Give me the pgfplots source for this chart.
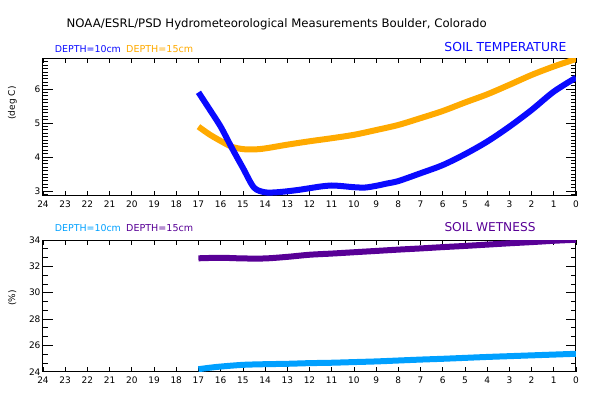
\documentclass[border=0pt]{standalone}
\usepackage{fontspec}
\setmainfont{DejaVu Sans}
\usepackage{pgfplots}
\pgfplotsset{compat=1.18}
\definecolor{cBlue}{RGB}{10,10,255}
\definecolor{cOrange}{RGB}{255,170,0}
\definecolor{cLight}{RGB}{0,160,255}
\definecolor{cPurple}{RGB}{88,0,150}
\pgfplotsset{
  myaxis/.style={
    scale only axis, width=533pt, anchor=south west,
    xmin=0, xmax=24, x dir=reverse,
    xtick={0,1,...,24},
    axis line style={line width=1pt},
    major tick length=10pt, minor tick length=5pt,
    every tick/.style={black, line width=0.7pt},
    xtick style={/pgfplots/major tick length=5pt},
    minor y tick style={black, line width=0.7pt},
    tick align=inside,
    xticklabel pos=lower, yticklabel pos=left,
    ticklabel style={font=\fontsize{9}{10}\selectfont},
    /pgf/number format/assume math mode=true,
    xticklabel style={yshift=-1.5pt},
    yticklabel style={xshift=1pt},
    clip=true,
  }
}
\begin{document}
\begin{tikzpicture}[x=1pt,y=1pt]
\useasboundingbox (0,0) rectangle (603,397);
% top panel
\begin{axis}[myaxis, at={(43pt,201.3pt)}, height=137.4pt,
  ymin=2.86, ymax=6.9, ytick={3,4,5,6},
  minor ytick={2.9,3.1,3.2,3.3,3.4,3.5,3.6,3.7,3.8,3.9,4.1,4.2,4.3,4.4,4.5,4.6,4.7,4.8,4.9,5.1,5.2,5.3,5.4,5.5,5.6,5.7,5.8,5.9,6.1,6.2,6.3,6.4,6.5,6.6,6.7,6.8}]
\addplot[color=cOrange, line width=6pt, smooth] coordinates {
(17,4.89) (16.5,4.66) (16,4.47) (15.5,4.30) (15,4.23) (14.5,4.22) (14,4.25)
(13,4.36) (12,4.46) (11,4.55) (10,4.65) (9,4.79) (8,4.94) (7,5.14) (6,5.35)
(5,5.60) (4,5.84) (3,6.12) (2,6.41) (1,6.66) (0,6.88)};
\addplot[color=cBlue, line width=6pt, smooth] coordinates {
(17,5.90) (16.5,5.40) (16,4.89) (15.5,4.27) (15,3.68) (14.5,3.10) (14,2.96)
(13.5,2.96) (13,2.99) (12.5,3.03) (12,3.08) (11.5,3.13) (11,3.16) (10.5,3.14)
(10,3.11) (9.5,3.10) (9,3.15) (8.5,3.22) (8,3.29) (7,3.52) (6,3.76) (5,4.08)
(4,4.45) (3,4.89) (2,5.38) (1,5.92) (0,6.33)};
\end{axis}
% bottom panel
\begin{axis}[myaxis, at={(43pt,25.3pt)}, height=131.7pt,
  ymin=24, ymax=34, ytick={24,26,...,34},
  minor ytick={24.667,25.333,26.667,27.333,28.667,29.333,30.667,31.333,32.667,33.333}]
\addplot[color=cPurple, line width=6pt, smooth] coordinates {
(17,32.61) (16,32.65) (15,32.60) (14,32.60) (13,32.72) (12,32.88) (11,32.97)
(10,33.07) (9,33.17) (8,33.27) (7,33.36) (6,33.46) (5,33.55) (4,33.65)
(3,33.75) (2,33.84) (1,33.94) (0,34.02)};
\addplot[color=cLight, line width=6pt, smooth] coordinates {
(17,24.19) (16.5,24.30) (16,24.39) (15,24.52) (14,24.57) (13,24.60) (12,24.65)
(11,24.68) (10,24.73) (9,24.78) (8,24.85) (7,24.92) (6,24.98) (5,25.05)
(4,25.12) (3,25.18) (2,25.24) (1,25.30) (0,25.36)};
\end{axis}
% texts
\node[anchor=west, inner sep=0pt] at (66.5,372.3) {\resizebox{420pt}{!}{NOAA/ESRL/PSD Hydrometeorological Measurements Boulder, Colorado}};
\node[anchor=west, inner sep=0pt, text=cBlue] at (54.7,348.3) {\resizebox{66pt}{!}{DEPTH=10cm}};
\node[anchor=west, inner sep=0pt, text=cOrange] at (126,348.3) {\resizebox{67pt}{!}{DEPTH=15cm}};
\node[anchor=east, inner sep=0pt, text=cBlue] at (566.7,349.7) {\resizebox{122pt}{!}{SOIL TEMPERATURE}};
\node[anchor=west, inner sep=0pt, text=cLight] at (54.7,169.3) {\resizebox{66pt}{!}{DEPTH=10cm}};
\node[anchor=west, inner sep=0pt, text=cPurple] at (126,169.3) {\resizebox{67pt}{!}{DEPTH=15cm}};
\node[anchor=west, inner sep=0pt, text=cPurple] at (444.3,169.7) {\resizebox{91pt}{!}{SOIL WETNESS}};
\node[rotate=90, inner sep=0pt, font=\fontsize{9}{10}\selectfont] at (12.3,294) {(deg C)};
\node[rotate=90, inner sep=0pt, font=\fontsize{9}{10}\selectfont] at (12.3,99) {(\%)};
\end{tikzpicture}
\end{document}
